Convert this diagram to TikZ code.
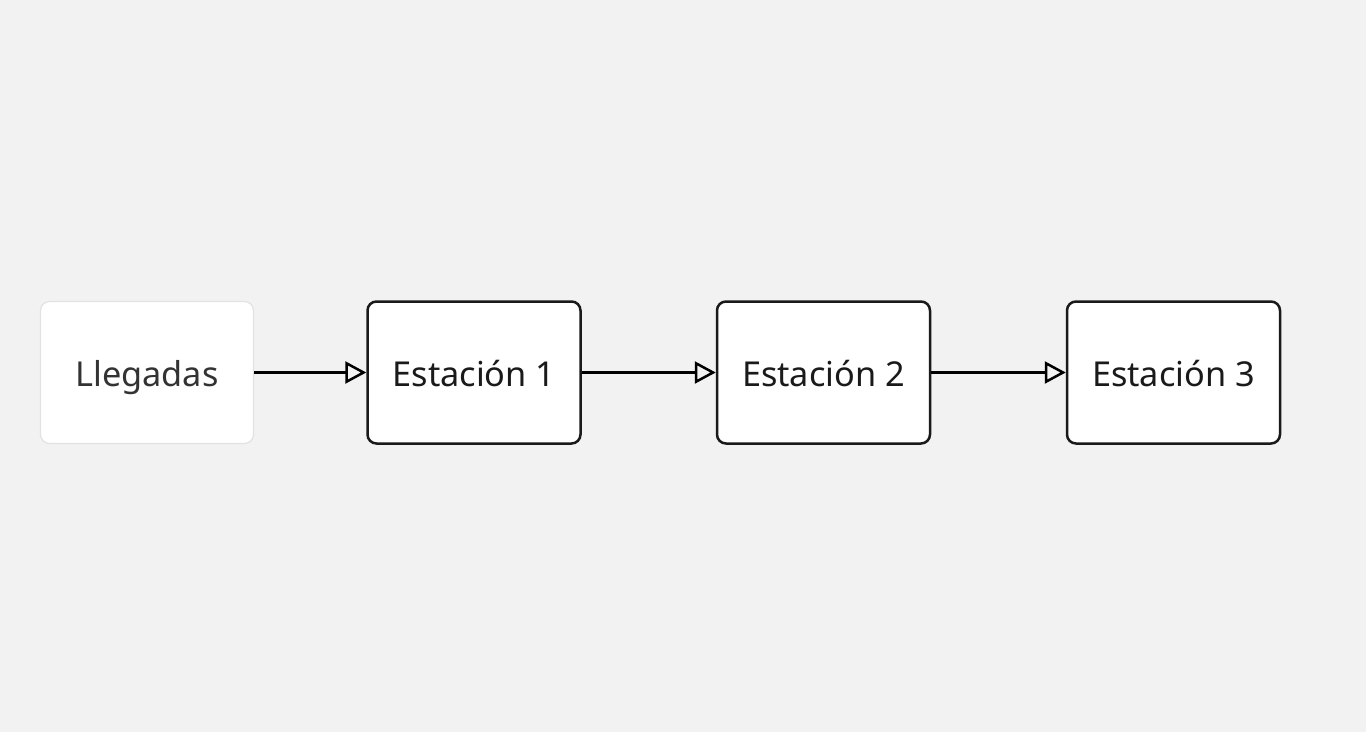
\documentclass[tikz,border=0pt]{standalone}
\usepackage{fontspec}
\setmainfont{Noto Sans}
\usetikzlibrary{arrows.meta}
\definecolor{bgc}{HTML}{F2F2F2}
\definecolor{lightb}{HTML}{E2E2E2}
\definecolor{txtg}{HTML}{333333}
\definecolor{dark}{HTML}{1A1A1A}
\begin{document}
\begin{tikzpicture}[x=1pt,y=-1pt,
  box/.style={draw=dark, line width=2.5pt, fill=white, rounded corners=9pt,
    minimum width=213pt, minimum height=142pt, inner sep=0pt,
    text height=35pt, text depth=7pt,
    font=\fontsize{34.3}{40}\selectfont, text=dark},
  srcbox/.style={box, draw=lightb, line width=1.2pt, text=txtg},
  flow/.style={draw=black, line width=2.5pt,
    -{Triangle[open, length=21pt, width=22pt, line width=2.5pt]}}]
\fill[bgc] (0,0) rectangle (1366,732);
\useasboundingbox (0,0) rectangle (1366,732);
\node[srcbox] (lleg) at (147,372.5) {Llegadas};
\node[box] (e1) at (474,372.5) {Estación 1};
\node[box] (e2) at (823.5,372.5) {Estación 2};
\node[box] (e3) at (1173.5,372.5) {Estación 3};
\draw[flow] (lleg) -- (e1);
\draw[flow] (e1) -- (e2);
\draw[flow] (e2) -- (e3);
\end{tikzpicture}
\end{document}
